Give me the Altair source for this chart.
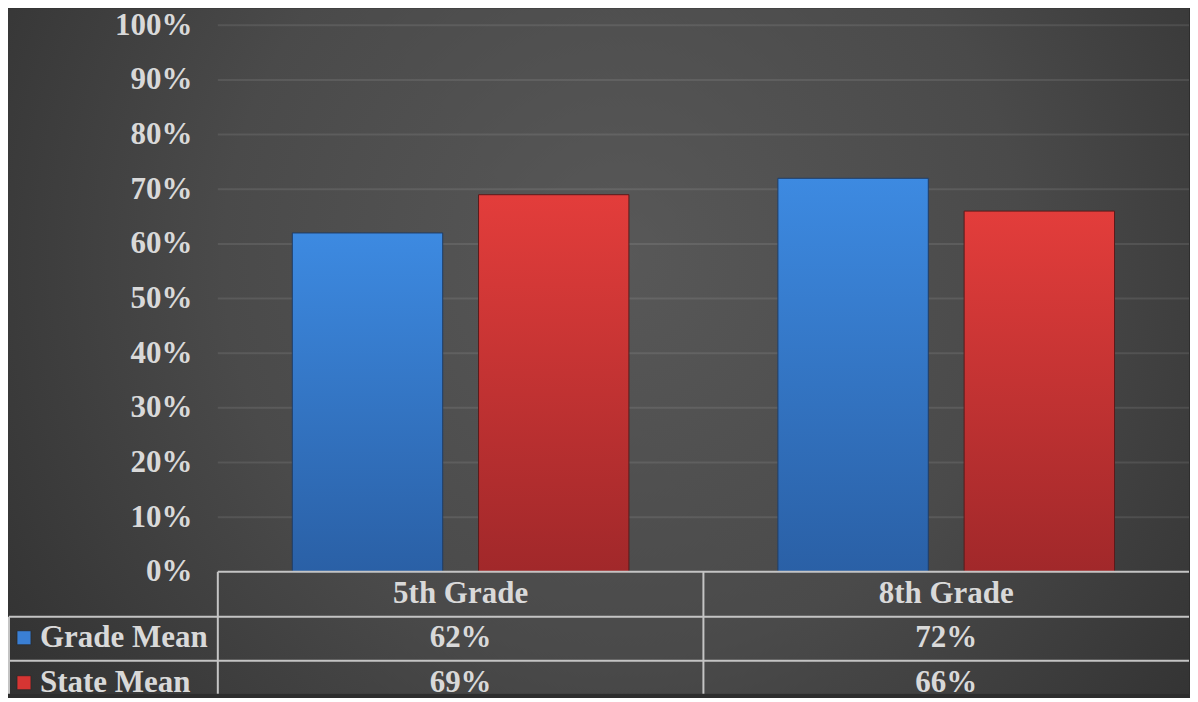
import altair as alt
import pandas as pd

categories = ["5th Grade", "8th Grade"]
series = ["Grade Mean", "State Mean"]
grade_mean = [0.62, 0.72]
state_mean = [0.69, 0.66]
y_ticks = [0.0, 0.1, 0.2, 0.3, 0.4, 0.5, 0.6, 0.7, 0.8, 0.9, 1.0]

rows = []
for i, c in enumerate(categories):
    rows.append({"cat": c, "series": series[0], "value": grade_mean[i]})
    rows.append({"cat": c, "series": series[1], "value": state_mean[i]})
df = pd.DataFrame(rows)
cat_df = pd.DataFrame({"cat": categories})
grid_df = pd.DataFrame({"v": [t for t in y_ticks if t > 0]})

W, H = 972, 547
TOP = 17
BOTTOM = 669
FONT = "Liberation Serif"
FS = 31
TXT = "#d9d9d9"
LINE = "#c4c4c4"

xscale = alt.Scale(domain=categories, paddingInner=0, paddingOuter=0)
xoff_scale = alt.Scale(domain=series, paddingInner=0.1925, paddingOuter=0.40)
yscale = alt.Scale(domain=[0, 1])

bg = alt.Chart(alt.Data(values=[{}])).mark_rect(
    fill=alt.Gradient(
        gradient="radial",
        stops=[alt.GradientStop(color="#585858", offset=0),
               alt.GradientStop(color="#4a4a4a", offset=0.45),
               alt.GradientStop(color="#282828", offset=1)],
        x1=0.52, y1=0.42, r1=0, x2=0.52, y2=0.42, r2=0.75,
    )
).encode(x=alt.value(-210), x2=alt.value(W), y=alt.value(-TOP), y2=alt.value(BOTTOM))

grid = alt.Chart(grid_df).mark_rule(color="white", opacity=0.09, strokeWidth=2).encode(
    y=alt.Y("v:Q", scale=yscale, title=None,
            axis=alt.Axis(values=y_ticks, format=".0%", grid=False, domain=False, ticks=False,
                          labelFont=FONT, labelFontSize=FS, labelFontWeight="bold",
                          labelColor=TXT, labelPadding=26, zindex=1)),
    x=alt.value(0), x2=alt.value(W),
)

def bars(name, top, bottom, stroke):
    return alt.Chart(df).transform_filter(alt.datum.series == name).mark_bar(
        fill=alt.Gradient(gradient="linear",
                          stops=[alt.GradientStop(color=top, offset=0),
                                 alt.GradientStop(color=bottom, offset=1)],
                          x1=0, y1=0, x2=0, y2=1),
        stroke=stroke, strokeWidth=1,
    ).encode(
        x=alt.X("cat:N", scale=xscale, axis=None, title=None),
        xOffset=alt.XOffset("series:N", scale=xoff_scale),
        y=alt.Y("value:Q", scale=yscale, title=None),
    )

blue = bars("Grade Mean", "#3d8ae1", "#2a60a6", "#1f3d66")
red = bars("State Mean", "#e33d3b", "#a1282a", "#5a1a1a")

def rule_h(ypos, x0):
    return alt.Chart(alt.Data(values=[{}])).mark_rule(color=LINE, strokeWidth=2).encode(
        y=alt.value(ypos), x=alt.value(x0), x2=alt.value(W))

hline_top = rule_h(H, 0)
hline_1 = rule_h(592, -209)
hline_2 = rule_h(636, -209)
vline_left = alt.Chart(alt.Data(values=[{}])).mark_rule(color=LINE, strokeWidth=2).encode(
    x=alt.value(-209), y=alt.value(592), y2=alt.value(BOTTOM))
vlines = alt.Chart(cat_df).mark_rule(color=LINE, strokeWidth=2).encode(
    x=alt.X("cat:N", scale=xscale, bandPosition=0),
    y=alt.value(H), y2=alt.value(BOTTOM))

text_style = dict(font=FONT, fontSize=FS, fontWeight="bold", color=TXT, baseline="middle")

header = alt.Chart(cat_df).mark_text(**text_style).encode(
    x=alt.X("cat:N", scale=xscale), y=alt.value(569), text="cat:N")

def value_row(name, ypos):
    return alt.Chart(df).transform_filter(alt.datum.series == name).mark_text(**text_style).encode(
        x=alt.X("cat:N", scale=xscale), y=alt.value(ypos),
        text=alt.Text("value:Q", format=".0%"))

row1 = value_row("Grade Mean", 613)
row2 = value_row("State Mean", 658)

leg_df = pd.DataFrame({"series": series})

def legend_row(name, ypos, color):
    d = leg_df[leg_df.series == name]
    lab = alt.Chart(d).mark_text(align="left", **text_style).encode(
        x=alt.value(-178), y=alt.value(ypos), text="series:N")
    sq = alt.Chart(d).mark_square(size=190, color=color, opacity=1, stroke="#222", strokeWidth=0.5).encode(
        x=alt.value(-194), y=alt.value(ypos))
    return lab + sq

leg1 = legend_row("Grade Mean", 613, "#3a7fd4")
leg2 = legend_row("State Mean", 658, "#d63533")

chart = alt.layer(
    bg, grid, blue, red, hline_top, hline_1, hline_2, vline_left, vlines,
    header, row1, row2, leg1, leg2
).properties(width=W, height=H, padding=0, background="#2d2d2d").configure_view(stroke=None)

chart.save("out.html", embed_options={"renderer": "svg", "actions": False})
